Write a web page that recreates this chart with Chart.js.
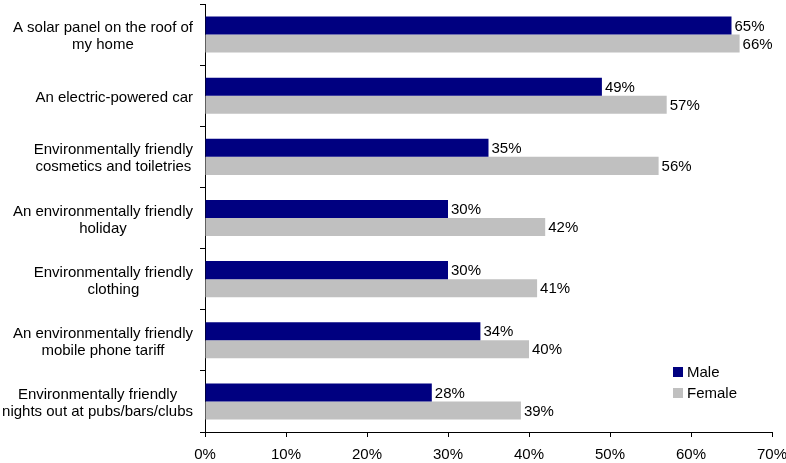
<!DOCTYPE html>
<html>
<head>
<meta charset="utf-8">
<script src="https://cdn.jsdelivr.net/npm/chart.js@4"></script>
<style>
  html, body { margin: 0; padding: 0; background: #fff; }
  #wrap { width: 786px; height: 463px; }
</style>
</head>
<body>
<div id="wrap"><canvas id="chart"></canvas></div>
<script>
const categories = [
  ["A solar panel on the roof of", "my home"],
  ["An electric-powered car"],
  ["Environmentally friendly", "cosmetics and toiletries"],
  ["An environmentally friendly", "holiday"],
  ["Environmentally friendly", "clothing"],
  ["An environmentally friendly", "mobile phone tariff"],
  ["Environmentally friendly", "nights out at pubs/bars/clubs"]
];
const maleValues = [65, 49, 35, 30, 30, 34, 28];
const femaleValues = [66, 57, 56, 42, 41, 40, 39];
const xTicks = [0, 10, 20, 30, 40, 50, 60, 70];

const FONT = "'Liberation Sans', Arial, sans-serif";

// category labels: block right-aligned, lines centred inside the block
const catLabels = {
  id: 'catLabels',
  afterDraw(chart) {
    const ctx = chart.ctx;
    const y = chart.scales.y;
    ctx.save();
    ctx.font = '15px ' + FONT;
    ctx.fillStyle = '#000';
    ctx.textAlign = 'center';
    ctx.textBaseline = 'middle';
    categories.forEach((lines, i) => {
      const maxW = Math.max(...lines.map(l => ctx.measureText(l).width));
      const cx = y.right - 12 - maxW / 2;
      const cy = y.getPixelForValue(i) + 2;
      const lh = 17;
      lines.forEach((l, j) => {
        ctx.fillText(l, cx, cy + (j - (lines.length - 1) / 2) * lh);
      });
    });
    ctx.restore();
  }
};

// value labels to the right of each bar
const valueLabels = {
  id: 'valueLabels',
  afterDatasetsDraw(chart) {
    const ctx = chart.ctx;
    ctx.save();
    ctx.font = '15px ' + FONT;
    ctx.fillStyle = '#000';
    ctx.textAlign = 'left';
    ctx.textBaseline = 'middle';
    chart.data.datasets.forEach((ds, di) => {
      chart.getDatasetMeta(di).data.forEach((bar, i) => {
        ctx.fillText(Math.round(ds.data[i]) + '%', bar.x + 3, bar.y + 1);
      });
    });
    ctx.restore();
  }
};

// legend inside the plot, bottom right
const insideLegend = {
  id: 'insideLegend',
  afterDraw(chart) {
    const ctx = chart.ctx;
    ctx.save();
    ctx.font = '15px ' + FONT;
    ctx.textBaseline = 'middle';
    ctx.textAlign = 'left';
    chart.data.datasets.forEach((ds, i) => {
      const yy = 372 + i * 21;
      ctx.fillStyle = ds.backgroundColor;
      ctx.fillRect(673, yy - 5, 10, 10);
      ctx.fillStyle = '#000';
      ctx.fillText(ds.label, 687, yy + 1);
    });
    ctx.restore();
  }
};

new Chart(document.getElementById('chart'), {
  type: 'bar',
  data: {
    labels: categories.map(c => c.join(' ')),
    datasets: [
      { label: 'Male', data: maleValues, backgroundColor: '#000080' },
      { label: 'Female', data: femaleValues, backgroundColor: '#c0c0c0' }
    ]
  },
  options: {
    indexAxis: 'y',
    responsive: true,
    maintainAspectRatio: false,
    animation: false,
    layout: { padding: { top: 4, right: 14, bottom: 0, left: 0 } },
    datasets: {
      bar: { categoryPercentage: 0.59, barPercentage: 1.0 }
    },
    plugins: {
      legend: { display: false },
      tooltip: { enabled: false }
    },
    scales: {
      x: {
        min: 0,
        max: 70,
        afterBuildTicks(axis) { axis.ticks = xTicks.map(v => ({ value: v })); },
        afterFit(axis) {
          axis.height = 31;
          axis.paddingRight = 0;
          axis.paddingLeft = 0;
        },
        border: { display: true, color: '#000', width: 1 },
        grid: { drawOnChartArea: false, drawTicks: true, tickLength: 5, color: '#000' },
        ticks: {
          color: '#000',
          font: { family: FONT, size: 15 },
          padding: 9,
          maxRotation: 0,
          callback: v => v + '%'
        }
      },
      y: {
        afterFit(axis) { axis.width = 205; },
        border: { display: true, color: '#000', width: 1 },
        grid: { drawOnChartArea: false, drawTicks: true, tickLength: 5, color: '#000', offset: true },
        ticks: { display: false }
      }
    }
  },
  plugins: [catLabels, valueLabels, insideLegend]
});
</script>
</body>
</html>
